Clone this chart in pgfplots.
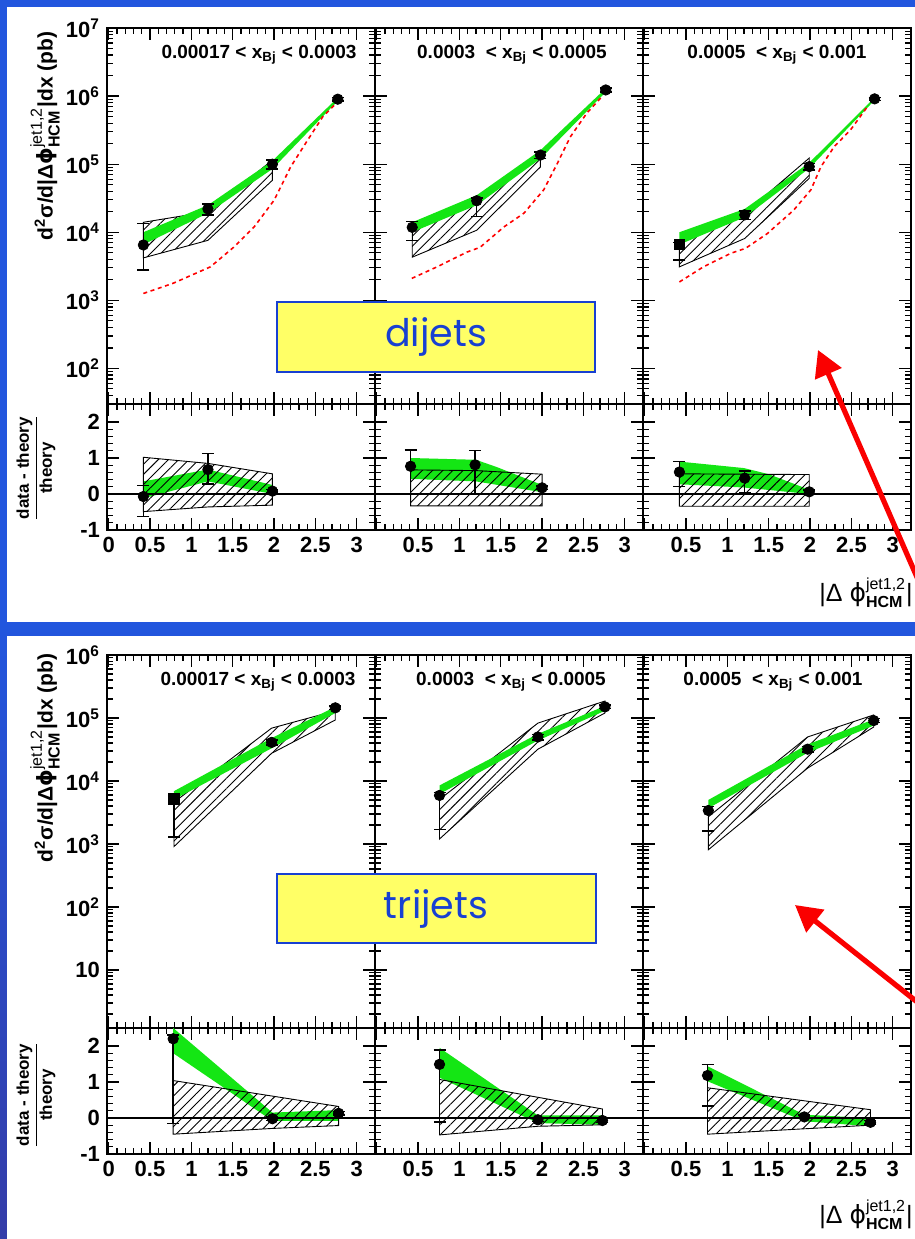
\documentclass[border=0pt]{standalone}
\usepackage{fontspec}
\setmainfont{Liberation Sans}
\newfontfamily\boxfont{Poppins}
\newfontfamily\phifont{DejaVu Sans}
\usepackage{pgfplots}
\pgfplotsset{compat=1.18}
\usetikzlibrary{patterns.meta,arrows.meta}
\definecolor{slideblue}{RGB}{34,86,222}
\definecolor{slidebluedark}{RGB}{52,60,168}
\definecolor{bandgreen}{RGB}{20,230,20}
\definecolor{boxyellow}{RGB}{255,255,102}
\definecolor{boxblue}{RGB}{24,64,210}
\definecolor{arrowred}{RGB}{250,0,0}

\pgfplotsset{
  scale only axis, width=134pt,
  xmin=-0.02, xmax=3.22,
  axis line style={line width=0.8pt},
  tick style={black, line width=0.6pt},
  tick align=inside, xtick pos=both, ytick pos=both,
  major tick length=6pt, minor tick length=3pt,
  xtick={0,0.5,1,1.5,2,2.5,3}, minor x tick num=4,
  tick label style={font=\bfseries\fontsize{11}{12}\selectfont},
  hatchband/.style={draw=black, line width=0.45pt, pattern={Lines[angle=45,distance=3.6pt,line width=0.45pt]}},
  greenband/.style={draw=none, fill=bandgreen},
  reddash/.style={red, line width=0.8pt, dash pattern=on 2pt off 1.8pt},
  zeroline/.style={black, line width=0.6pt},
  datapt/.style={black, only marks, mark=*, mark size=2.6pt,
    error bars/y dir=both, error bars/y explicit,
    error bars/error bar style={line width=0.7pt},
    error bars/error mark options={rotate=90, mark size=3pt, line width=0.7pt}},
}
\newcommand{\ylabmain}{d\textsuperscript{2}σ/d|Δ{\phifont ϕ}$^{\mbox{\mdseries\fontsize{8}{8}\selectfont jet1,2}}_{\mbox{\fontsize{8}{8}\selectfont HCM}}$|dx (pb)}
\newcommand{\ylabratio}{$\displaystyle\frac{\mbox{data - theory}}{\mbox{theory}}$}
\newcommand{\xlab}{|Δ {\phifont ϕ}$^{\mbox{\fontsize{8}{8}\selectfont jet1,2}}_{\mbox{\bfseries\fontsize{8}{8}\selectfont HCM}}$|}

\begin{document}
\begin{tikzpicture}[x=1pt,y=1pt]
\useasboundingbox (0,0) rectangle (457.5,619.5);
\shade[top color=slideblue, bottom color=slidebluedark, middle color=slideblue] (0,0) rectangle (457.5,619.5);
\fill[white] (3.5,308.5) rectangle (457.5,616);
\fill[white] (3.5,0) rectangle (457.5,301.5);

% ================= TOP: dijets =================
\begin{axis}[anchor=north west, at={(53.5pt,605.5pt)},
  ymode=log, height=188pt, ymin=30, ymax=1e7, xticklabels={},
  ytick={1e2,1e3,1e4,1e5,1e6,1e7},
  minor ytick={40,50,60,70,80,90,200,300,400,500,600,700,800,900,2000,3000,4000,5000,6000,7000,8000,9000,20000,30000,40000,50000,60000,70000,80000,90000,200000,300000,400000,500000,600000,700000,800000,900000,2000000,3000000,4000000,5000000,6000000,7000000,8000000,9000000},
  yticklabels={10\textsuperscript{2},10\textsuperscript{3},10\textsuperscript{4},10\textsuperscript{5},10\textsuperscript{6},10\textsuperscript{7}}]
\addplot[hatchband] coordinates {(0.42,14000)(1.2,20000)(1.98,115000)(1.98,58000)(1.2,7600)(0.42,4200)} -- cycle;
\addplot[greenband] coordinates {(0.42,10000)(1.2,25000)(1.98,112000)(2.77,950000)(2.77,850000)(1.98,85000)(1.2,19000)(0.42,6600)} -- cycle;
\addplot[reddash] coordinates {(0.42,1260)(0.78,1780)(1.23,3100)(1.51,6000)(1.76,12000)(2.0,29500)(2.2,91000)(2.4,220000)(2.59,500000)(2.73,740000)};
\addplot[datapt] coordinates {(0.42,6500) += (0,7000) -= (0,3700) (1.2,22000) +- (0,4000) (1.98,100000) +- (0,15000) (2.77,900000) +- (0,50000)};
\end{axis}
\begin{axis}[anchor=north west, at={(187.5pt,605.5pt)},
  ymode=log, height=188pt, ymin=30, ymax=1e7, xticklabels={},
  ytick={1e2,1e3,1e4,1e5,1e6,1e7}, yticklabels={},
  minor ytick={40,50,60,70,80,90,200,300,400,500,600,700,800,900,2000,3000,4000,5000,6000,7000,8000,9000,20000,30000,40000,50000,60000,70000,80000,90000,200000,300000,400000,500000,600000,700000,800000,900000,2000000,3000000,4000000,5000000,6000000,7000000,8000000,9000000}]
\addplot[hatchband] coordinates {(0.43,10700)(1.21,27500)(1.98,126000)(1.98,91000)(1.21,10700)(0.43,4300)} -- cycle;
\addplot[greenband] coordinates {(0.43,14000)(1.21,35000)(1.98,160000)(2.77,1300000)(2.77,1150000)(1.98,120000)(1.21,25000)(0.43,10000)} -- cycle;
\addplot[reddash] coordinates {(0.425,2100)(0.73,3100)(1.09,5100)(1.25,6000)(1.54,12000)(1.78,19000)(2.02,42000)(2.18,100000)(2.34,250000)(2.54,560000)(2.73,1000000)};
\addplot[datapt] coordinates {(0.43,11800) += (0,2500) -= (0,4200) (1.21,29000) += (0,3000) -= (0,12000) (1.98,136000) +- (0,15000) (2.77,1230000) +- (0,80000)};
\end{axis}
\begin{axis}[anchor=north west, at={(321.5pt,605.5pt)},
  ymode=log, height=188pt, ymin=30, ymax=1e7, xticklabels={},
  ytick={1e2,1e3,1e4,1e5,1e6,1e7}, yticklabels={},
  minor ytick={40,50,60,70,80,90,200,300,400,500,600,700,800,900,2000,3000,4000,5000,6000,7000,8000,9000,20000,30000,40000,50000,60000,70000,80000,90000,200000,300000,400000,500000,600000,700000,800000,900000,2000000,3000000,4000000,5000000,6000000,7000000,8000000,9000000}]
\addplot[hatchband] coordinates {(0.42,7600)(1.21,19000)(1.99,123000)(1.99,62000)(1.21,8100)(0.42,3100)} -- cycle;
\addplot[greenband] coordinates {(0.42,10000)(1.21,22000)(1.99,105000)(2.78,950000)(2.78,870000)(1.99,87000)(1.21,16600)(0.42,6600)} -- cycle;
\addplot[reddash] coordinates {(0.42,1860)(0.71,3100)(1.04,4900)(1.22,5800)(1.48,9500)(1.80,21000)(2.01,42000)(2.13,91000)(2.29,180000)(2.49,320000)(2.69,690000)};
\addplot[datapt, mark=square*] coordinates {(0.42,6600) += (0,500) -= (0,2700)};
\addplot[datapt] coordinates {(1.21,18000) +- (0,2500) (1.99,92000) +- (0,10000) (2.78,910000) +- (0,50000)};
\end{axis}

\begin{axis}[anchor=north west, at={(53.5pt,417.5pt)},
  height=63pt, ymin=-1, ymax=2.5, ytick={-1,0,1,2}, minor y tick num=4,
  yticklabels={-1,0,1,2}, xticklabels={0,0.5,1,1.5,2,2.5,3}]
\addplot[greenband] coordinates {(0.42,0.35)(1.2,0.68)(1.98,0.25)(1.98,0.0)(1.2,0.35)(0.42,-0.12)} -- cycle;
\addplot[hatchband] coordinates {(0.42,1.02)(1.2,0.85)(1.98,0.56)(1.98,-0.31)(1.2,-0.36)(0.42,-0.49)} -- cycle;
\addplot[zeroline] coordinates {(-0.02,0)(3.22,0)};
\addplot[datapt] coordinates {(0.42,-0.07) += (0,0.3) -= (0,0.55) (1.2,0.68) += (0,0.45) -= (0,0.4) (1.98,0.08) +- (0,0.05)};
\end{axis}
\begin{axis}[anchor=north west, at={(187.5pt,417.5pt)},
  height=63pt, ymin=-1, ymax=2.5, ytick={-1,0,1,2}, minor y tick num=4,
  yticklabels={}, xticklabels={{},0.5,1,1.5,2,2.5,3}]
\addplot[greenband] coordinates {(0.41,1.0)(1.2,0.95)(1.45,0.75)(2.0,0.25)(2.0,0.05)(1.2,0.35)(0.41,0.42)} -- cycle;
\addplot[hatchband] coordinates {(0.41,0.67)(1.2,0.65)(2.0,0.55)(2.0,-0.33)(0.41,-0.33)} -- cycle;
\addplot[zeroline] coordinates {(-0.02,0)(3.22,0)};
\addplot[datapt] coordinates {(0.41,0.77) += (0,0.45) -= (0,0.77) (1.19,0.81) += (0,0.4) -= (0,0.81) (2.0,0.17) +- (0,0.05)};
\end{axis}
\begin{axis}[anchor=north west, at={(321.5pt,417.5pt)},
  height=63pt, ymin=-1, ymax=2.5, ytick={-1,0,1,2}, minor y tick num=4,
  yticklabels={}, xticklabels={{},0.5,1,1.5,2,2.5,3}]
\addplot[greenband] coordinates {(0.42,0.9)(1.2,0.72)(1.5,0.55)(1.99,0.12)(1.99,0.0)(1.2,0.18)(0.42,0.27)} -- cycle;
\addplot[hatchband] coordinates {(0.42,0.56)(1.99,0.54)(1.99,-0.34)(0.42,-0.34)} -- cycle;
\addplot[zeroline] coordinates {(-0.02,0)(3.22,0)};
\addplot[datapt] coordinates {(0.42,0.61) += (0,0.3) -= (0,0.4) (1.21,0.44) += (0,0.2) -= (0,0.41) (1.99,0.06) +- (0,0.05)};
\end{axis}

% ================= BOTTOM: trijets =================
\begin{axis}[anchor=north west, at={(53.5pt,292pt)},
  ymode=log, height=186.5pt, ymin=1.2, ymax=1e6, xticklabels={},
  ytick={10,1e2,1e3,1e4,1e5,1e6},
  minor ytick={2,3,4,5,6,7,8,9,20,30,40,50,60,70,80,90,200,300,400,500,600,700,800,900,2000,3000,4000,5000,6000,7000,8000,9000,20000,30000,40000,50000,60000,70000,80000,90000,200000,300000,400000,500000,600000,700000,800000,900000},
  yticklabels={10,10\textsuperscript{2},10\textsuperscript{3},10\textsuperscript{4},10\textsuperscript{5},10\textsuperscript{6}}]
\addplot[hatchband] coordinates {(0.79,4600)(1.97,69000)(2.74,130000)(2.74,93000)(1.97,27500)(0.79,910)} -- cycle;
\addplot[greenband] coordinates {(0.79,6900)(1.97,48000)(2.74,150000)(2.74,120000)(1.97,33000)(0.79,5100)} -- cycle;
\addplot[datapt, mark=square*] coordinates {(0.79,5200) += (0,600) -= (0,3900)};
\addplot[datapt] coordinates {(1.97,41000) +- (0,4000) (2.74,145000) +- (0,10000)};
\end{axis}
\begin{axis}[anchor=north west, at={(187.5pt,292pt)},
  ymode=log, height=186.5pt, ymin=1.2, ymax=1e6, xticklabels={},
  ytick={10,1e2,1e3,1e4,1e5,1e6}, yticklabels={},
  minor ytick={2,3,4,5,6,7,8,9,20,30,40,50,60,70,80,90,200,300,400,500,600,700,800,900,2000,3000,4000,5000,6000,7000,8000,9000,20000,30000,40000,50000,60000,70000,80000,90000,200000,300000,400000,500000,600000,700000,800000,900000}]
\addplot[hatchband] coordinates {(0.76,5100)(1.95,83000)(2.76,186000)(2.76,120000)(1.95,32000)(0.76,1200)} -- cycle;
\addplot[greenband] coordinates {(0.76,8500)(1.95,56000)(2.76,155000)(2.76,130000)(1.95,44000)(0.76,6200)} -- cycle;
\addplot[datapt] coordinates {(0.76,5900) += (0,700) -= (0,4200) (1.95,50000) +- (0,5000) (2.76,150000) +- (0,10000)};
\end{axis}
\begin{axis}[anchor=north west, at={(321.5pt,292pt)},
  ymode=log, height=186.5pt, ymin=1.2, ymax=1e6, xticklabels={},
  ytick={10,1e2,1e3,1e4,1e5,1e6}, yticklabels={},
  minor ytick={2,3,4,5,6,7,8,9,20,30,40,50,60,70,80,90,200,300,400,500,600,700,800,900,2000,3000,4000,5000,6000,7000,8000,9000,20000,30000,40000,50000,60000,70000,80000,90000,200000,300000,400000,500000,600000,700000,800000,900000}]
\addplot[hatchband] coordinates {(0.77,2700)(1.97,50000)(2.77,112000)(2.77,72000)(1.97,16000)(0.77,810)} -- cycle;
\addplot[greenband] coordinates {(0.77,5000)(1.97,38000)(2.77,95000)(2.77,76000)(1.97,28000)(0.77,3700)} -- cycle;
\addplot[datapt] coordinates {(0.77,3400) += (0,500) -= (0,1800) (1.97,32000) +- (0,3000) (2.77,91000) +- (0,7000)};
\end{axis}

\begin{axis}[anchor=north west, at={(53.5pt,105.5pt)},
  height=63pt, ymin=-1, ymax=2.5, ytick={-1,0,1,2}, minor y tick num=4,
  yticklabels={-1,0,1,2}, xticklabels={0,0.5,1,1.5,2,2.5,3}]
\addplot[greenband] coordinates {(0.78,2.5)(1.98,0.15)(2.78,0.22)(2.78,-0.08)(1.98,-0.08)(0.78,1.8)} -- cycle;
\addplot[hatchband] coordinates {(0.78,1.04)(2.78,0.32)(2.78,-0.21)(1.98,-0.29)(0.78,-0.45)} -- cycle;
\addplot[zeroline] coordinates {(-0.02,0)(3.22,0)};
\addplot[datapt] coordinates {(0.78,2.2) += (0,0.1) -= (0,2.35) (1.98,-0.02) +- (0,0.05) (2.78,0.13) +- (0,0.05)};
\end{axis}
\begin{axis}[anchor=north west, at={(187.5pt,105.5pt)},
  height=63pt, ymin=-1, ymax=2.5, ytick={-1,0,1,2}, minor y tick num=4,
  yticklabels={}, xticklabels={{},0.5,1,1.5,2,2.5,3}]
\addplot[greenband] coordinates {(0.76,1.95)(1.95,0.07)(2.73,0.07)(2.73,-0.19)(1.95,-0.14)(0.76,1.12)} -- cycle;
\addplot[hatchband] coordinates {(0.76,1.07)(2.73,0.25)(2.73,-0.19)(1.95,-0.23)(0.76,-0.47)} -- cycle;
\addplot[zeroline] coordinates {(-0.02,0)(3.22,0)};
\addplot[datapt] coordinates {(0.76,1.49) += (0,0.4) -= (0,1.6) (1.95,-0.05) +- (0,0.05) (2.73,-0.07) +- (0,0.05)};
\end{axis}
\begin{axis}[anchor=north west, at={(321.5pt,105.5pt)},
  height=63pt, ymin=-1, ymax=2.5, ytick={-1,0,1,2}, minor y tick num=4,
  yticklabels={}, xticklabels={{},0.5,1,1.5,2,2.5,3}]
\addplot[greenband] coordinates {(0.76,1.44)(1.93,0.09)(2.73,0.0)(2.73,-0.23)(1.93,-0.09)(0.76,1.02)} -- cycle;
\addplot[hatchband] coordinates {(0.76,0.84)(2.73,0.23)(2.73,-0.2)(1.93,-0.3)(0.76,-0.45)} -- cycle;
\addplot[zeroline] coordinates {(-0.02,0)(3.22,0)};
\addplot[datapt] coordinates {(0.76,1.18) += (0,0.3) -= (0,0.85) (1.93,0.03) +- (0,0.05) (2.73,-0.12) +- (0,0.05)};
\end{axis}

% ================= labels =================
\node[rotate=90, font=\bfseries\fontsize{10.5}{12}\selectfont] at (22.5,551.5) {\ylabmain};
\node[rotate=90, font=\bfseries\fontsize{10.5}{12}\selectfont] at (22.5,240.5) {\ylabmain};
\node[rotate=90, font=\bfseries\fontsize{8.5}{10}\selectfont] at (18,385.5) {\ylabratio};
\node[rotate=90, font=\bfseries\fontsize{8.5}{10}\selectfont] at (18,72) {\ylabratio};
\node[font=\fontsize{12.5}{14}\selectfont] at (433,323) {\xlab};
\node[font=\fontsize{12.5}{14}\selectfont] at (433,12) {\xlab};

\begin{scope}[font=\bfseries\fontsize{9.5}{11}\selectfont]
\node at (129.5,592) {0.00017 < x\textsubscript{Bj} < 0.0003};
\node at (256,592) {0.0003\ \ < x\textsubscript{Bj} < 0.0005};
\node at (388.5,592) {0.0005\ \ < x\textsubscript{Bj} < 0.001};
\node at (129,278.5) {0.00017 < x\textsubscript{Bj} < 0.0003};
\node at (255.5,278.5) {0.0003\ \ < x\textsubscript{Bj} < 0.0005};
\node at (386.5,278.5) {0.0005\ \ < x\textsubscript{Bj} < 0.001};
\end{scope}

% yellow boxes
\filldraw[fill=boxyellow, draw=boxblue, line width=1pt] (138.5,433.5) rectangle (297.5,468.5);
\node[text=boxblue, font=\boxfont\fontsize{19}{22}\selectfont] at (218,451) {dijets};
\filldraw[fill=boxyellow, draw=boxblue, line width=1pt] (138.5,148) rectangle (298,182.5);
\node[text=boxblue, font=\boxfont\fontsize{19}{22}\selectfont] at (218,165) {trijets};

% red arrows
\begin{scope}
\clip (0,0) rectangle (457.5,619.5);
\draw[arrowred, line width=2.6pt, -{Triangle[length=13pt,width=14pt]}] (470,304.5) -- (409,444.5);
\draw[arrowred, line width=2.6pt, -{Triangle[length=13pt,width=14pt]}] (480,101.5) -- (397.5,167);
\end{scope}
\end{tikzpicture}
\end{document}
